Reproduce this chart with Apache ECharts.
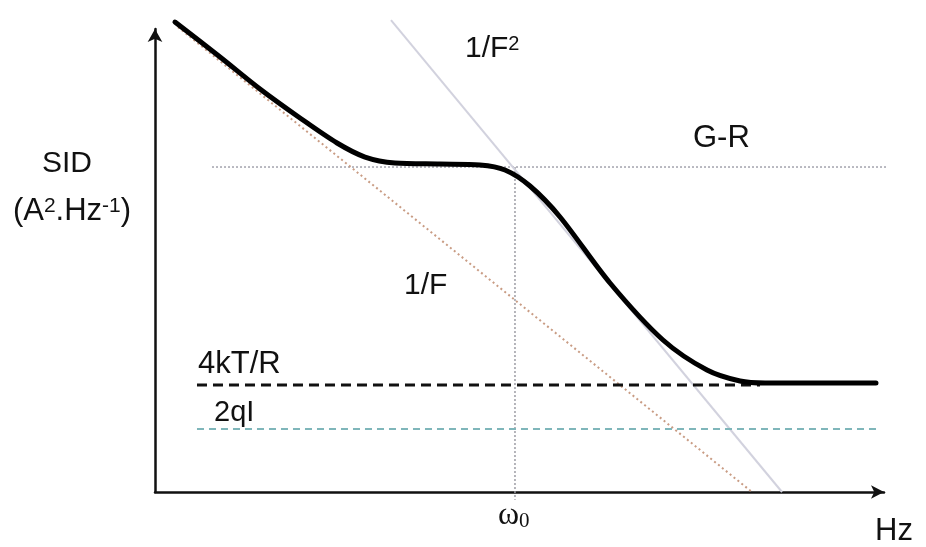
<!DOCTYPE html>
<html>
<head>
<meta charset="utf-8">
<script src="https://cdn.jsdelivr.net/npm/echarts@6/dist/echarts.min.js"></script>
<style>
html,body{margin:0;padding:0;background:#fff;}
#c{width:926px;height:547px;}
</style>
</head>
<body>
<div id="c"></div>
<script>
// Schematic noise spectrum (arbitrary units: x 0-100 = log frequency, y 0-100 = log SID)
const totalX = [2.74, 8.92, 14.40, 19.89, 24.97, 28.81, 32.92, 39.09, 44.58, 48.01, 51.44, 55.56, 62.41, 69.68, 75.72, 80.25, 83.68, 98.90];
const totalY = [101.5, 93.95, 87.04, 80.78, 75.38, 72.35, 71.06, 70.84, 70.63, 69.55, 66.09, 59.40, 45.14, 32.83, 26.35, 23.97, 23.54, 23.54];
const flickerX = [3.16, 81.89];
const flickerY = [100.4, 0];
const invF2X = [32.37, 86.01];
const invF2Y = [101.9, 0];
const grX = [7.82, 103.57];
const grY = [70.19, 70.19];
const omega0X = [49.38, 49.38];
const omega0Y = [70.19, -1.7];
const thermalX = [5.76, 82.99];
const thermalY = [23.11, 23.11];
const shotX = [5.76, 98.90];
const shotY = [13.61, 13.61];

function pts(xs, ys){ return xs.map((x,i)=>[x, ys[i]]); }

const chart = echarts.init(document.getElementById('c'), null, {renderer:'canvas'});
const base = {type:'line', showSymbol:false, symbol:'none', clip:false, silent:true, animation:false};
const sans = '"Liberation Sans", Arial, sans-serif';
const serif = '"Liberation Serif", "DejaVu Serif", serif';

chart.setOption({
  animation:false,
  backgroundColor:'#ffffff',
  grid:{left:155, right:42, top:29, bottom:55},
  xAxis:{type:'value', min:0, max:100,
    axisLine:{show:true, lineStyle:{color:'#111', width:2.5}, symbol:['none','arrow'], symbolSize:[10,13]},
    axisTick:{show:false}, axisLabel:{show:false}, splitLine:{show:false}},
  yAxis:{type:'value', min:0, max:100,
    axisLine:{show:true, onZero:false, lineStyle:{color:'#111', width:2.5}, symbol:['none','arrow'], symbolSize:[11,13]},
    axisTick:{show:false}, axisLabel:{show:false}, splitLine:{show:false}},
  series:[
    Object.assign({}, base, {name:'G-R', data:pts(grX, grY), lineStyle:{color:'#a3a3ad', width:1.5, type:[2,2]}}),
    Object.assign({}, base, {name:'omega0', data:pts(omega0X, omega0Y), lineStyle:{color:'#9c9ca4', width:1.5, type:[2,2]}}),
    Object.assign({}, base, {name:'1/F2', data:pts(invF2X, invF2Y), lineStyle:{color:'#d2d2de', width:2, type:'solid'}}),
    Object.assign({}, base, {name:'1/F', data:pts(flickerX, flickerY), lineStyle:{color:'#c99c84', width:2, type:[2,3]}}),
    Object.assign({}, base, {name:'2qI', data:pts(shotX, shotY), lineStyle:{color:'#7fb6ba', width:2, type:[7,5]}}),
    Object.assign({}, base, {name:'4kT/R', data:pts(thermalX, thermalY), lineStyle:{color:'#111', width:3, type:[10,6]}}),
    Object.assign({}, base, {name:'total', data:pts(totalX, totalY), smooth:0.3, lineStyle:{color:'#000', width:5, cap:'round', join:'round'}})
  ],
  graphic:[
    {type:'text', x:67, y:164, silent:true, style:{text:'SID', font:'30px '+sans, fill:'#111', align:'center', verticalAlign:'middle'}},
    {type:'text', x:72, y:211, silent:true, style:{text:'{n|(A}{s|2}{n|.Hz}{s|-1}{n|)}', fill:'#111', align:'center', verticalAlign:'middle',
      rich:{n:{font:'31px '+sans, fill:'#111'}, s:{font:'21px '+sans, fill:'#111', verticalAlign:'top'}}}},
    {type:'text', x:465, y:49, silent:true, style:{text:'1/F{s|2}', font:'30px '+sans, fill:'#111', align:'left', verticalAlign:'middle',
      rich:{s:{font:'20px '+sans, fill:'#111', verticalAlign:'top'}}}},
    {type:'text', x:693, y:138, silent:true, style:{text:'G-R', font:'31px '+sans, fill:'#111', align:'left', verticalAlign:'middle'}},
    {type:'text', x:404, y:286, silent:true, style:{text:'1/F', font:'30px '+sans, fill:'#111', align:'left', verticalAlign:'middle'}},
    {type:'text', x:198, y:364, silent:true, style:{text:'4kT/R', font:'31px '+sans, fill:'#111', align:'left', verticalAlign:'middle'}},
    {type:'text', x:214, y:413, silent:true, style:{text:'2qI', font:'29px '+sans, fill:'#111', align:'left', verticalAlign:'middle'}},
    {type:'text', x:498, y:516, silent:true, style:{text:'{w|ω}{s|0}', fill:'#111', align:'left', verticalAlign:'middle',
      rich:{w:{font:'32px '+serif, fill:'#111'}, s:{font:'21px '+serif, fill:'#111', verticalAlign:'bottom'}}}},
    {type:'text', x:875, y:531, silent:true, style:{text:'Hz', font:'31px '+sans, fill:'#111', align:'left', verticalAlign:'middle'}}
  ]
});
</script>
</body>
</html>
